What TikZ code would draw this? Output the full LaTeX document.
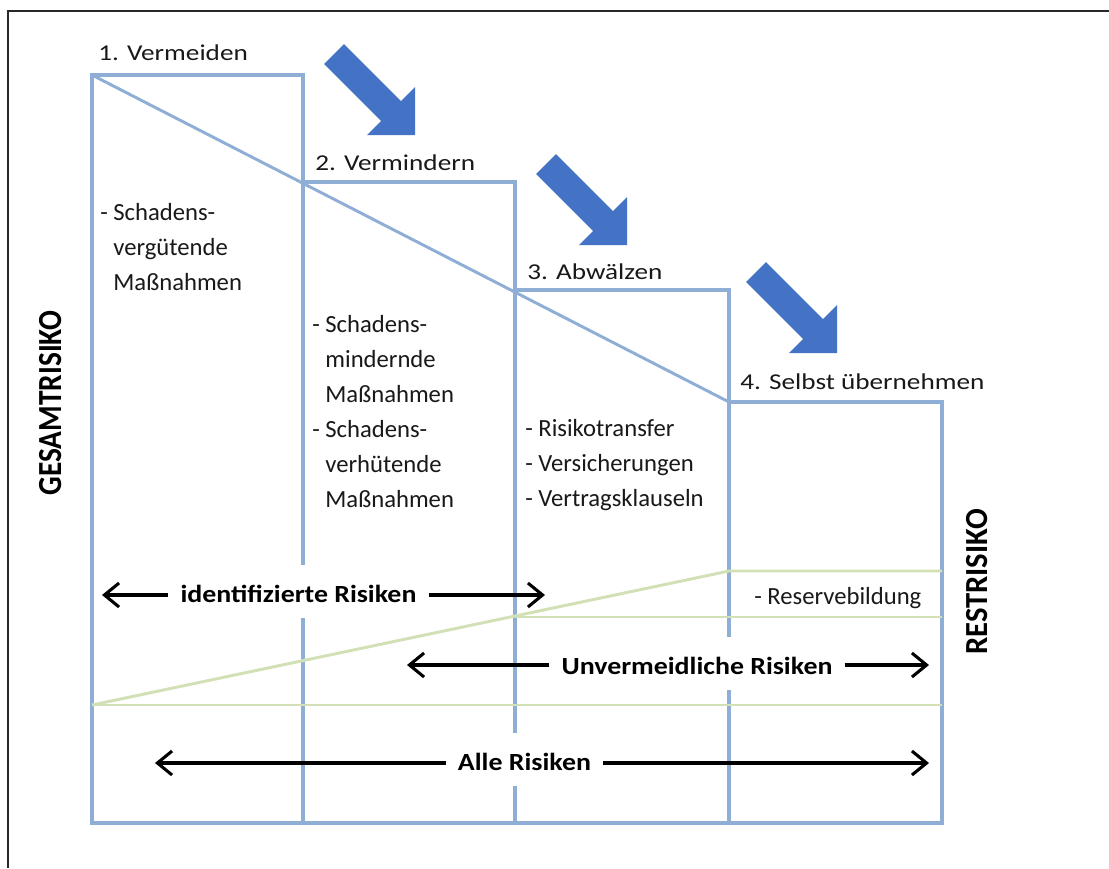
\documentclass[tikz,border=0pt]{standalone}
\usepackage{fontspec}
\setmainfont{Carlito}
\usetikzlibrary{arrows.meta}
\definecolor{boxblue}{RGB}{143,174,214}
\definecolor{arrowblue}{RGB}{68,114,196}
\definecolor{palegreen}{RGB}{210,224,182}
\definecolor{framegray}{RGB}{40,40,40}
\definecolor{txt}{RGB}{25,25,25}
\tikzset{
  boxline/.style={draw=boxblue, line width=3.4pt},
  diagline/.style={draw=boxblue, line width=2.2pt},
  greenline/.style={draw=palegreen, line width=2.2pt},
  headtext/.style={anchor=base west, inner sep=0pt, text=txt, font=\fontsize{17pt}{20pt}\selectfont},
  bodytext/.style={anchor=base west, inner sep=0pt, text=txt, font=\fontsize{18.5pt}{22pt}\selectfont},
  risklabel/.style={fill=white, anchor=base, inner xsep=9pt, inner ysep=0pt, text height=27.75pt, text depth=12pt, text=black, font=\bfseries\fontsize{18.5pt}{22pt}\selectfont},
  vlabel/.style={rotate=90, inner sep=0pt, text=black, font=\bfseries\fontsize{22pt}{26pt}\selectfont},
  riskarrow/.style={draw=black, line width=2.3pt, -{Straight Barb[length=11pt,width=18pt]}},
  bigarrow/.pic={\fill[arrowblue] (-71.1,-90.9) -- (-14.1,-33.9) -- (0,-48) -- (0,0) -- (-48,0) -- (-33.9,-14.1) -- (-90.9,-71.1) -- cycle;}
}
\newcommand{\hx}[1]{\scalebox{1.2}[1]{#1}}
\newcommand{\bx}[1]{\scalebox{1.13}[1]{#1}}
\begin{document}
\begin{tikzpicture}[x=0.75pt, y=-0.75pt]
\useasboundingbox (0,0) rectangle (1109,868);
\fill[white] (0,0) rectangle (1109,868);
% frame
\draw[framegray, line width=2.2pt] (8,868) -- (8,11) -- (1109,11);

% box structure
\draw[boxline] (303,823) -- (303,75) -- (92,75) -- (92,823) -- (942,823) -- (942,402) -- (729,402) -- (729,823);
\draw[boxline] (729,402) -- (729,290) -- (515,290) -- (515,823);
\draw[boxline] (515,290) -- (515,182) -- (303,182);

% diagonal total risk
\draw[diagline] (92,75) -- (729,402);

% green residual risk lines
\draw[greenline] (92,705) -- (942,705);
\draw[greenline] (92,705) -- (729,571) -- (942,571);
\draw[greenline] (515,617) -- (942,617);

% blue block arrows
\pic at (415,135) {bigarrow};
\pic at (627,245) {bigarrow};
\pic at (837,353) {bigarrow};

% step headings
\node[headtext] (h1) at (98,60) {\hx{1. Vermeiden}};
\node[headtext] (h2) at (315,170) {\hx{2. Vermindern}};
\node[headtext] (h3) at (527,279) {\hx{3. Abwälzen}};
\node[headtext] (h4) at (740,389) {\hx{4. Selbst übernehmen}};

% column 1
\node[bodytext] (c1a) at (100,220) {- Schadens-};
\node[bodytext] (c1b) at (100,255) {\hphantom{- }vergütende};
\node[bodytext] (c1c) at (100,290) {\hphantom{- }Maßnahmen};
% column 2
\node[bodytext] (c2a) at (312,332) {- Schadens-};
\node[bodytext] (c2b) at (312,367) {\hphantom{- }mindernde};
\node[bodytext] (c2c) at (312,402) {\hphantom{- }Maßnahmen};
\node[bodytext] (c2d) at (312,437) {- Schadens-};
\node[bodytext] (c2e) at (312,472) {\hphantom{- }verhütende};
\node[bodytext] (c2f) at (312,507) {\hphantom{- }Maßnahmen};
% column 3
\node[bodytext] (c3a) at (525,436) {- Risikotransfer};
\node[bodytext] (c3b) at (525,471) {- Versicherungen};
\node[bodytext] (c3c) at (525,506) {- Vertragsklauseln};
% column 4
\node[bodytext] (c4a) at (754,604) {- Reservebildung};

% side labels
\node[vlabel] (gesamt) at (51,403) {\scalebox{1}[1.15]{GESAMTRISIKO}};
\node[vlabel, font=\bfseries\fontsize{23pt}{27pt}\selectfont] (rest) at (977,582) {\scalebox{1}[1.05]{RESTRISIKO}};

% risk range labels
\node[risklabel] (ident) at (298.5,602) {\bx{identifizierte Risiken}};
\node[risklabel] (unverm) at (697,674) {\bx{Unvermeidliche Risiken}};
\node[risklabel] (alle) at (524.5,770) {\bx{Alle Risiken}};

\coordinate (identL) at (102,595);
\coordinate (identR) at (545,595);
\coordinate (unvermL) at (407,665);
\coordinate (unvermR) at (929,665);
\coordinate (alleL) at (155,763);
\coordinate (alleR) at (929,763);

\draw[riskarrow] (ident.west |- identL) -- (identL);
\draw[riskarrow] (ident.east |- identR) -- (identR);
\draw[riskarrow] (unverm.west |- unvermL) -- (unvermL);
\draw[riskarrow] (unverm.east |- unvermR) -- (unvermR);
\draw[riskarrow] (alle.west |- alleL) -- (alleL);
\draw[riskarrow] (alle.east |- alleR) -- (alleR);
\end{tikzpicture}
\end{document}
